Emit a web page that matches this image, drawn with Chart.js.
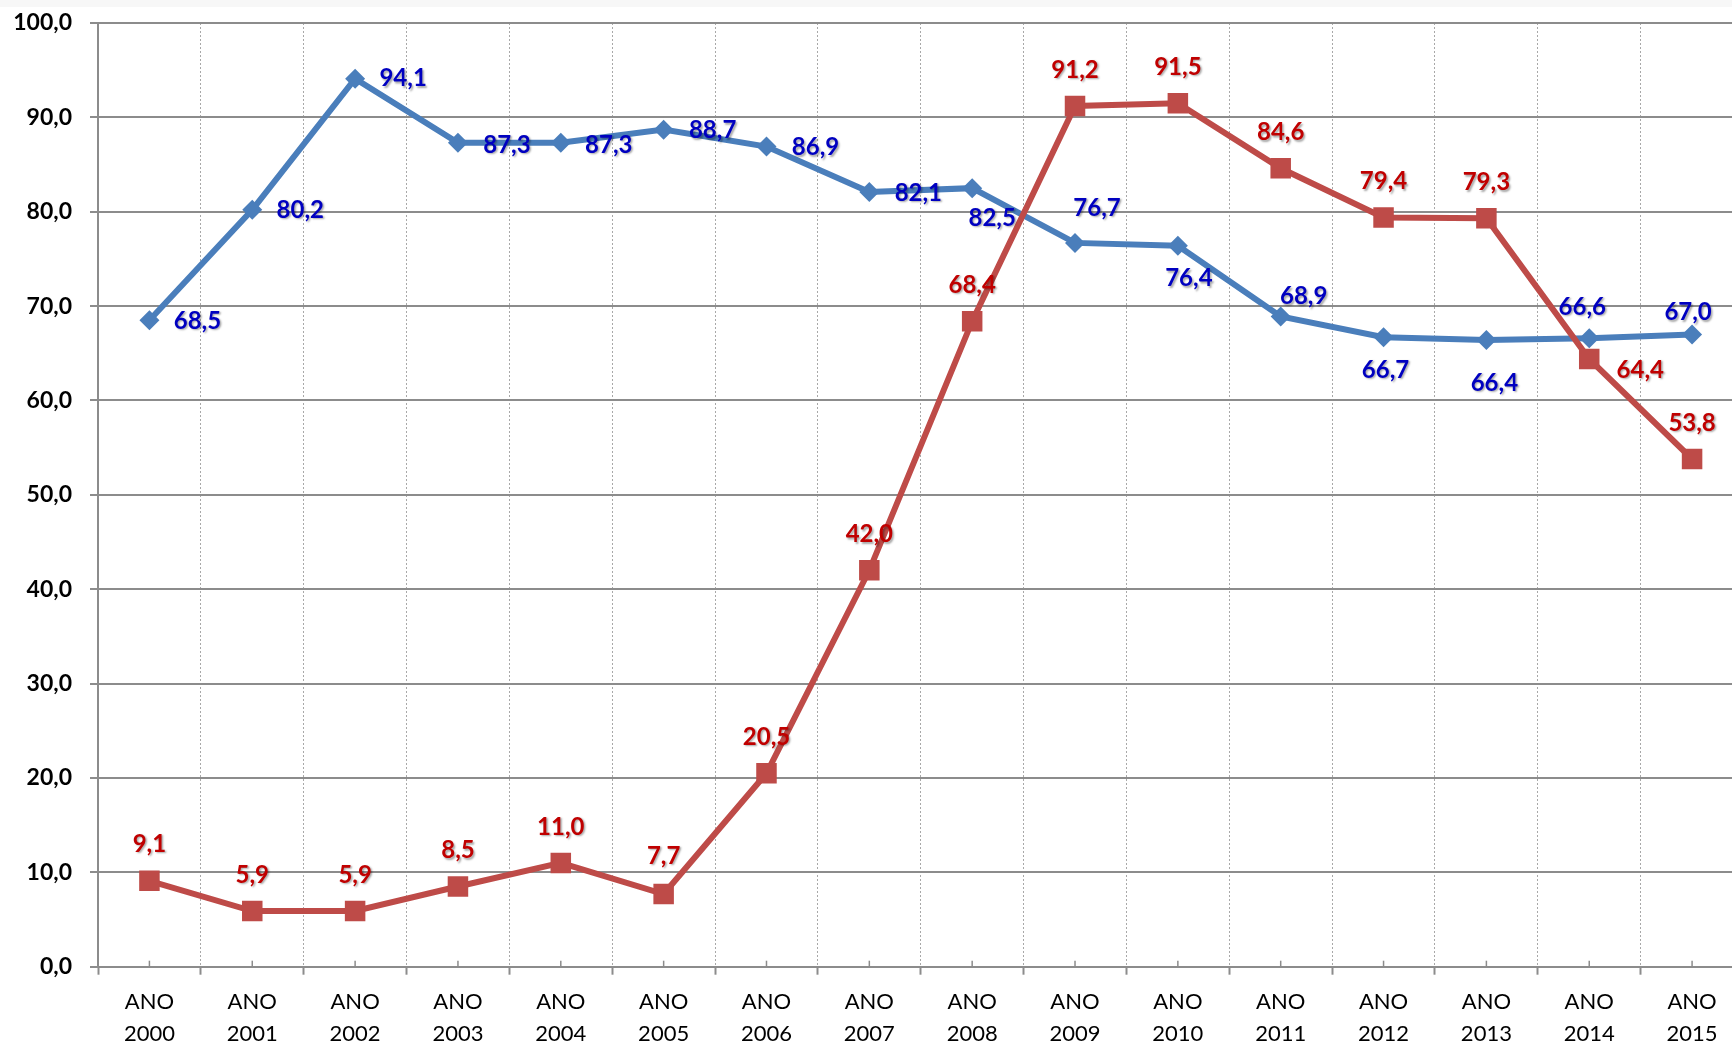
<!DOCTYPE html>
<html>
<head>
<meta charset="utf-8">
<script src="https://cdn.jsdelivr.net/npm/chart.js@4.4.1/dist/chart.umd.min.js"></script>
<style>
  html, body { margin: 0; padding: 0; background: #ffffff; overflow: hidden; }
  #topband { position: absolute; left: 0; top: 0; width: 1732px; height: 7px; background: #f7f7f7; }
  #wrap { position: absolute; left: 0; top: 0; width: 1758px; height: 1046px; }
</style>
</head>
<body>
<div id="wrap"><canvas id="c" width="1758" height="1046"></canvas></div>
<div id="topband"></div>
<script>
// ---- data ----
const categories = [
  ['ANO','2000'],['ANO','2001'],['ANO','2002'],['ANO','2003'],
  ['ANO','2004'],['ANO','2005'],['ANO','2006'],['ANO','2007'],
  ['ANO','2008'],['ANO','2009'],['ANO','2010'],['ANO','2011'],
  ['ANO','2012'],['ANO','2013'],['ANO','2014'],['ANO','2015']
];
const blueValues = [68.5, 80.2, 94.1, 87.3, 87.3, 88.7, 86.9, 82.1, 82.5, 76.7, 76.4, 68.9, 66.7, 66.4, 66.6, 67.0];
const redValues  = [9.1, 5.9, 5.9, 8.5, 11.0, 7.7, 20.5, 42.0, 68.4, 91.2, 91.5, 84.6, 79.4, 79.3, 64.4, 53.8];
const yTickValues = [0, 10, 20, 30, 40, 50, 60, 70, 80, 90, 100];

// ---- label placement (offsets from the point, px) ----
const blueLabelOffsets = [
  [48,1],[48,0],[48,0],[49,2],[48,2],[49,1],[49,1],[49,1],
  [20,30],[22,-35],[11,33],[23,-20],[2,33],[8,43],[-7,-31],[-4,-22]
];
const redLabelOffsets = [
  [0,-37],[0,-36],[0,-36],[0,-36],[0,-36],[0,-38],[0,-36],[0,-36],
  [0,-36],[0,-36],[0,-36],[0,-36],[0,-36],[0,-36],[51,11],[0,-36]
];

const fmt = v => v.toFixed(1).replace('.', ',');
const FONT = 'Lato, "Open Sans", "DejaVu Sans", sans-serif';

const labelPlugin = {
  id: 'valueLabels',
  afterDatasetsDraw(chart) {
    const ctx = chart.ctx;
    chart.data.datasets.forEach((ds, di) => {
      const meta = chart.getDatasetMeta(di);
      const offs = ds.labelOffsets;
      meta.data.forEach((pt, i) => {
        const o = offs[i];
        ctx.save();
        ctx.font = 'bold 24px ' + FONT;
        ctx.textAlign = 'center';
        ctx.textBaseline = 'middle';
        ctx.shadowColor = 'rgba(0,0,0,0.35)';
        ctx.shadowOffsetX = 1.5;
        ctx.shadowOffsetY = 1.5;
        ctx.shadowBlur = 2;
        ctx.fillStyle = ds.labelColor;
        ctx.fillText(fmt(ds.data[i]), pt.x + o[0], pt.y + o[1]);
        ctx.restore();
      });
    });
  }
};

const minorTicksPlugin = {
  id: 'minorTicks',
  afterDraw(chart) {
    const xs = chart.scales.x;
    const ctx = chart.ctx;
    const base = chart.chartArea.bottom;
    ctx.save();
    ctx.strokeStyle = '#8c8c8c';
    ctx.lineWidth = 1.5;
    categories.forEach((c, i) => {
      const px = xs.getPixelForValue(i);
      ctx.beginPath();
      ctx.moveTo(px, base - 6);
      ctx.lineTo(px, base);
      ctx.stroke();
    });
    ctx.restore();
  }
};

new Chart(document.getElementById('c'), {
  type: 'line',
  data: {
    labels: categories,
    datasets: [
      {
        label: 'A',
        data: blueValues,
        borderColor: '#4a7ebb',
        backgroundColor: '#4a7ebb',
        borderWidth: 6,
        pointStyle: 'rectRot',
        pointRadius: 10,
        pointBorderWidth: 0,
        pointBackgroundColor: '#4a7ebb',
        tension: 0,
        order: 2,
        labelColor: '#0000c0',
        labelOffsets: blueLabelOffsets
      },
      {
        label: 'B',
        data: redValues,
        borderColor: '#be4b48',
        backgroundColor: '#be4b48',
        borderWidth: 6,
        pointStyle: 'rect',
        pointRadius: 14.5,
        pointBorderWidth: 0,
        pointBackgroundColor: '#be4b48',
        tension: 0,
        order: 1,
        labelColor: '#c00000',
        labelOffsets: redLabelOffsets
      }
    ]
  },
  options: {
    responsive: false,
    animation: false,
    layout: { padding: { top: 23, right: 10, left: 0, bottom: 0 } },
    plugins: { legend: { display: false }, tooltip: { enabled: false } },
    scales: {
      x: {
        type: 'category',
        offset: true,
        grid: {
          offset: true,
          color: '#a8a8a8',
          lineWidth: 1,
          tickColor: '#8c8c8c',
          tickLength: 8,
          tickWidth: 2,
          tickBorderDash: []
        },
        border: { display: true, color: '#8c8c8c', width: 2, dash: [2, 2] },
        ticks: {
          color: '#000000',
          font: { family: FONT, size: 22, lineHeight: 1.42 },
          padding: 12,
          maxRotation: 0,
          autoSkip: false
        },
        afterFit(scale) { scale.height = 79.3; scale.paddingLeft = 0; scale.paddingRight = 0; }
      },
      y: {
        min: 0,
        max: 100,
        afterBuildTicks(scale) { scale.ticks = yTickValues.map(v => ({ value: v })); },
        grid: {
          color: '#8c8c8c',
          lineWidth: 2,
          tickColor: '#8c8c8c',
          tickLength: 8,
          tickWidth: 2
        },
        border: { display: true, color: '#8c8c8c', width: 2 },
        ticks: {
          color: '#000000',
          font: { family: FONT, size: 23, weight: 'bold' },
          padding: 18,
          callback: v => fmt(v)
        },
        afterFit(scale) { scale.width = 98; scale.paddingTop = 0; scale.paddingBottom = 0; }
      }
    }
  },
  plugins: [labelPlugin, minorTicksPlugin]
});
</script>
</body>
</html>
